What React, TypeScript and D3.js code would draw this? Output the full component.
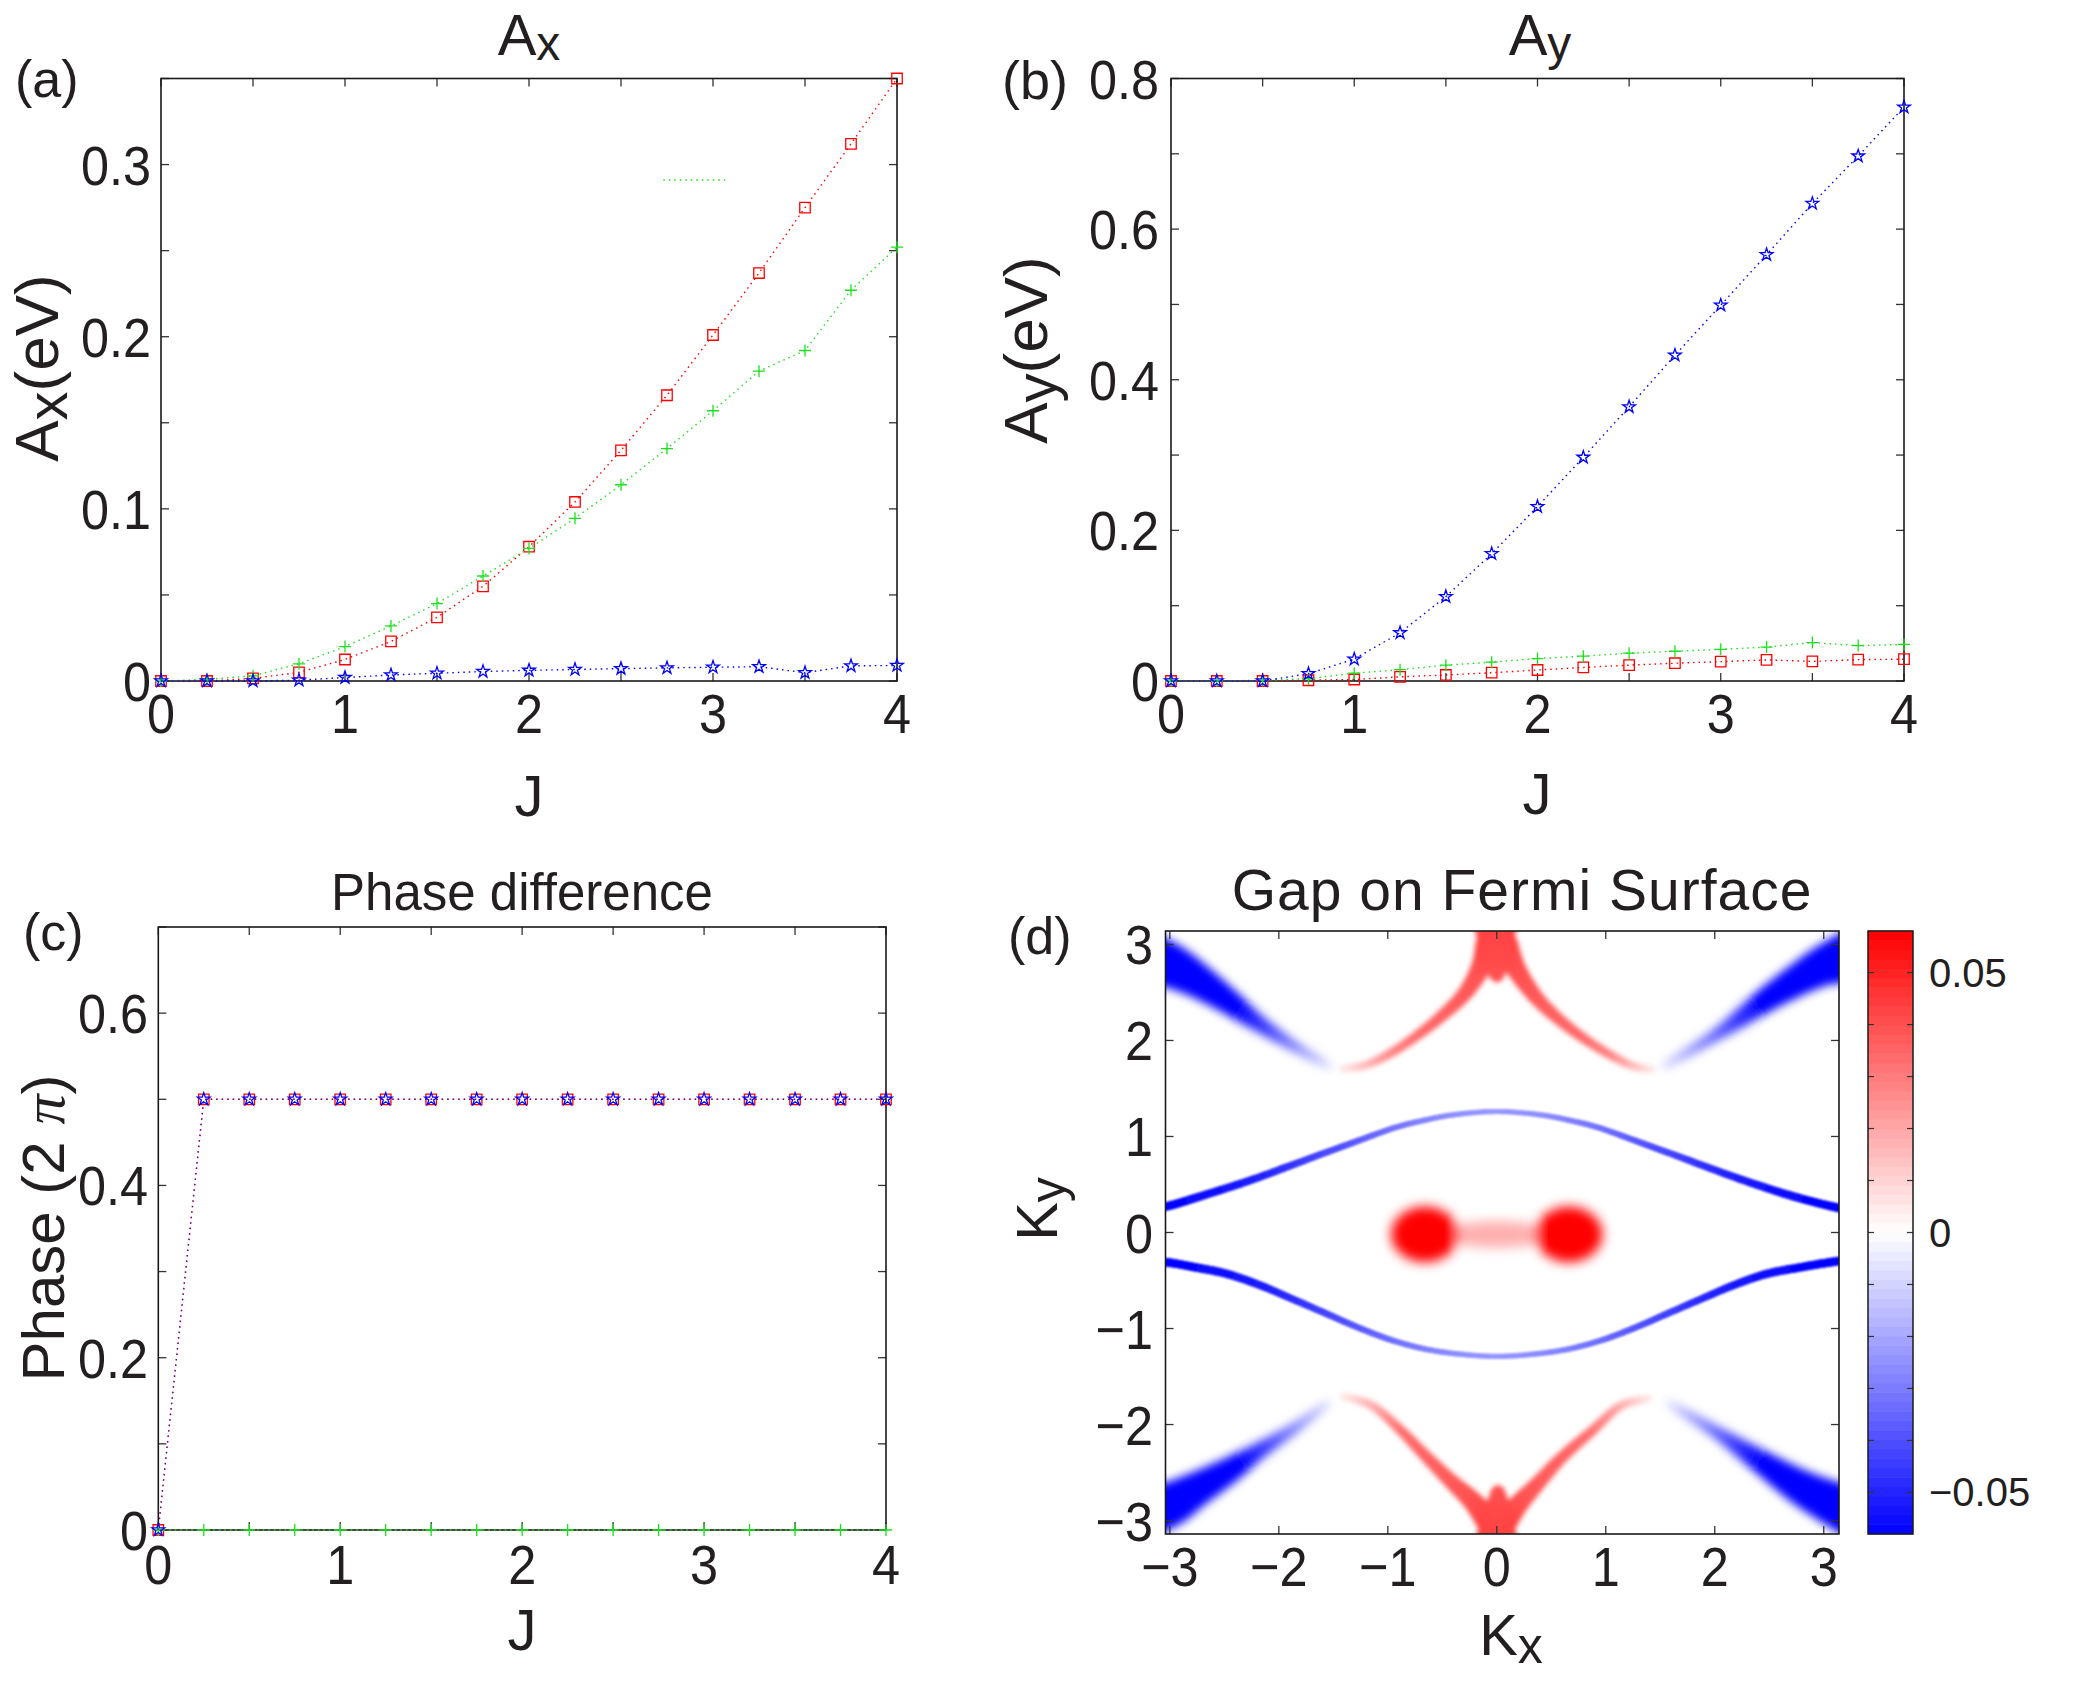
import React, { useEffect } from 'react';
import * as d3 from 'd3';

const FONT = '"Liberation Sans", Arial, Helvetica, sans-serif';
const INK = '#231f20';
const RED = '#ff0000';
const GREEN = '#1ee01e';
const BLUE = '#0000ff';

// ---------- panels (a)-(c): J sweep ----------
const J = [0, 0.25, 0.5, 0.75, 1, 1.25, 1.5, 1.75, 2, 2.25, 2.5, 2.75, 3, 3.25, 3.5, 3.75, 4];

const axRed = [0, 0, 0.0015, 0.005, 0.0125, 0.023, 0.037, 0.055, 0.078, 0.104, 0.134, 0.166, 0.201, 0.237, 0.275, 0.312, 0.35];
const axGreen = [0, 0.001, 0.003, 0.010, 0.020, 0.032, 0.045, 0.061, 0.077, 0.0945, 0.114, 0.135, 0.157, 0.18, 0.192, 0.227, 0.252];
const axBlue = [0, 0, 0, 0.0005, 0.002, 0.0035, 0.0045, 0.0055, 0.0062, 0.0067, 0.0072, 0.0076, 0.008, 0.0083, 0.0048, 0.0088, 0.009];
const axStub = [[2.73, 0.291], [3.07, 0.291]];

const ayBlue = [0, 0, 0, 0.0097, 0.029, 0.064, 0.112, 0.169, 0.2315, 0.297, 0.364, 0.4326, 0.499, 0.566, 0.634, 0.697, 0.762];
const ayGreen = [0, 0, 0.001, 0.003, 0.0104, 0.015, 0.021, 0.025, 0.0298, 0.033, 0.037, 0.0395, 0.042, 0.045, 0.051, 0.047, 0.0485];
const ayRed = [0, 0, 0, 0.001, 0.002, 0.0055, 0.008, 0.011, 0.0146, 0.018, 0.021, 0.0236, 0.0257, 0.028, 0.026, 0.0284, 0.029];

const phRed = [0, 0.5, 0.5, 0.5, 0.5, 0.5, 0.5, 0.5, 0.5, 0.5, 0.5, 0.5, 0.5, 0.5, 0.5, 0.5, 0.5];
const phBlue = [0, 0.5, 0.5, 0.5, 0.5, 0.5, 0.5, 0.5, 0.5, 0.5, 0.5, 0.5, 0.5, 0.5, 0.5, 0.5, 0.5];
const phGreen = [0, 0, 0, 0, 0, 0, 0, 0, 0, 0, 0, 0, 0, 0, 0, 0, 0];

const jTicks = [0, 0.5, 1, 1.5, 2, 2.5, 3, 3.5, 4];
const jLabels = [0, 1, 2, 3, 4];
const axYTicks = [0, 0.05, 0.1, 0.15, 0.2, 0.25, 0.3, 0.35];
const axYLabels = [0, 0.1, 0.2, 0.3];
const ayYTicks = [0, 0.1, 0.2, 0.3, 0.4, 0.5, 0.6, 0.7, 0.8];
const ayYLabels = [0, 0.2, 0.4, 0.6, 0.8];
const phYTicks = [0, 0.1, 0.2, 0.3, 0.4, 0.5, 0.6, 0.7];
const phYLabels = [0, 0.2, 0.4, 0.6];

// ---------- panel (d): gap on the Fermi surface ----------
// each point: [kx, ky, gap (eV), band width in k units]
const innerUpper = [
  [-3.3, 0.24, -0.058, 0.09], [-3.04, 0.27, -0.058, 0.09], [-2.71, 0.38, -0.056, 0.085],
  [-2.27, 0.54, -0.052, 0.08], [-1.92, 0.685, -0.047, 0.075], [-1.66, 0.795, -0.043, 0.07],
  [-1.43, 0.89, -0.04, 0.066], [-1.25, 0.965, -0.037, 0.064], [-0.94, 1.09, -0.032, 0.06],
  [-0.7, 1.16, -0.029, 0.058], [-0.4, 1.225, -0.026, 0.055], [0, 1.26, -0.024, 0.054],
  [0.4, 1.225, -0.026, 0.055], [0.7, 1.16, -0.029, 0.058], [0.94, 1.09, -0.032, 0.06],
  [1.25, 0.965, -0.037, 0.064], [1.43, 0.89, -0.04, 0.066], [1.66, 0.795, -0.043, 0.07],
  [1.92, 0.685, -0.047, 0.075], [2.3, 0.53, -0.052, 0.08], [2.71, 0.38, -0.056, 0.085],
  [3.12, 0.26, -0.058, 0.09], [3.3, 0.24, -0.058, 0.09],
];
const innerLower = [
  [-3.3, -0.29, -0.058, 0.09], [-3.03, -0.31, -0.058, 0.09], [-2.78, -0.36, -0.057, 0.088],
  [-2.48, -0.43, -0.055, 0.085], [-2.17, -0.55, -0.052, 0.08], [-1.86, -0.7, -0.048, 0.075],
  [-1.555, -0.85, -0.043, 0.07], [-1.25, -1.0, -0.038, 0.066], [-0.94, -1.13, -0.033, 0.062],
  [-0.63, -1.22, -0.029, 0.058], [-0.31, -1.27, -0.026, 0.055], [0, -1.29, -0.024, 0.054],
  [0.31, -1.27, -0.026, 0.055], [0.63, -1.22, -0.029, 0.058], [0.94, -1.13, -0.033, 0.062],
  [1.25, -1.0, -0.038, 0.066], [1.555, -0.85, -0.043, 0.07], [1.86, -0.7, -0.048, 0.075],
  [2.17, -0.55, -0.052, 0.08], [2.48, -0.43, -0.055, 0.085], [2.8, -0.36, -0.057, 0.088],
  [3.12, -0.3, -0.058, 0.09], [3.3, -0.29, -0.058, 0.09],
];
// funnel at the zone edge where the two red arms meet
const redTop = [[-0.01, 3.45, 0.043, 0.55], [-0.01, 3.05, 0.043, 0.36], [0, 2.85, 0.042, 0.26], [0, 2.68, 0.04, 0.14]];
const redBottom = [[0, -3.45, 0.043, 0.55], [0, -3.05, 0.043, 0.34], [0.01, -2.86, 0.042, 0.24], [0.01, -2.7, 0.04, 0.13]];
const redUL = [
  [-0.08, 3.0, 0.043, 0.26], [-0.15, 2.75, 0.041, 0.2], [-0.3, 2.48, 0.038, 0.15],
  [-0.5, 2.26, 0.036, 0.12], [-0.72, 2.06, 0.034, 0.1], [-0.97, 1.87, 0.029, 0.09],
  [-1.2, 1.745, 0.018, 0.08], [-1.41, 1.705, 0.006, 0.075],
];
const redUR = [
  [0.08, 3.0, 0.043, 0.26], [0.18, 2.74, 0.041, 0.2], [0.36, 2.45, 0.038, 0.15],
  [0.57, 2.22, 0.036, 0.12], [0.8, 2.02, 0.034, 0.1], [1.04, 1.85, 0.029, 0.09],
  [1.25, 1.735, 0.018, 0.08], [1.42, 1.7, 0.006, 0.075],
];
const redLL = [
  [-0.08, -3.0, 0.043, 0.26], [-0.22, -2.8, 0.041, 0.2], [-0.43, -2.58, 0.038, 0.15],
  [-0.66, -2.32, 0.036, 0.12], [-0.9, -2.04, 0.033, 0.1], [-1.15, -1.8, 0.02, 0.085], [-1.4, -1.71, 0.006, 0.075],
];
const redLR = [
  [0.08, -3.0, 0.043, 0.26], [0.2, -2.83, 0.041, 0.2], [0.38, -2.61, 0.038, 0.15],
  [0.6, -2.34, 0.036, 0.12], [0.88, -2.06, 0.033, 0.1], [1.13, -1.81, 0.021, 0.085], [1.38, -1.73, 0.007, 0.075],
];
const blueUL = [
  [-1.535, 1.73, -0.004, 0.075], [-1.86, 1.94, -0.027, 0.11], [-2.19, 2.18, -0.045, 0.17],
  [-2.48, 2.42, -0.058, 0.26], [-2.77, 2.64, -0.064, 0.36], [-3.02, 2.79, -0.066, 0.46], [-3.4, 2.95, -0.066, 0.56],
];
const blueUR = [
  [1.533, 1.73, -0.004, 0.075], [2.03, 2.07, -0.034, 0.13], [2.52, 2.46, -0.058, 0.26],
  [2.93, 2.74, -0.064, 0.38], [3.12, 2.83, -0.066, 0.46], [3.4, 2.95, -0.066, 0.56],
];
const blueLL = [
  [-1.55, -1.78, -0.004, 0.075], [-1.86, -2.04, -0.027, 0.11], [-2.19, -2.28, -0.045, 0.17],
  [-2.46, -2.48, -0.058, 0.26], [-2.78, -2.69, -0.064, 0.36], [-3.02, -2.84, -0.066, 0.46], [-3.4, -2.98, -0.066, 0.56],
];
const blueLR = [
  [1.58, -1.78, -0.004, 0.075], [2.03, -2.09, -0.034, 0.13], [2.44, -2.4, -0.055, 0.24],
  [2.8, -2.66, -0.064, 0.36], [3.12, -2.84, -0.066, 0.46], [3.4, -2.98, -0.066, 0.56],
];
// [kx, ky, rx, ry, gap]
const pocketBridge = [[0, -0.02, 0.5, 0.14, 0.018]];
const pockets = [[-0.66, -0.02, 0.31, 0.29, 0.066], [0.66, -0.02, 0.31, 0.29, 0.066]];

const kTicks = [-3, -2, -1, 0, 1, 2, 3];
const cbTicks = [-0.05, -0.04, -0.03, -0.02, -0.01, 0, 0.01, 0.02, 0.03, 0.04, 0.05];
const cbLabels = [[0.05, '0.05'], [0, '0'], [-0.05, '\u22120.05']];

// ---------- scales ----------
const aX = d3.scaleLinear().domain([0, 4]).range([161, 897]);
const aY = d3.scaleLinear().domain([0, 0.35]).range([681, 78.5]);
const bX = d3.scaleLinear().domain([0, 4]).range([1171, 1904]);
const bY = d3.scaleLinear().domain([0, 0.8]).range([681, 78.5]);
const cX = d3.scaleLinear().domain([0, 4]).range([158.3, 886]);
const cY = d3.scaleLinear().domain([0, 0.7]).range([1530, 927]);
const dX = d3.scaleLinear().domain([-3.04, 3.14]).range([1165.5, 1839]);
const dY = d3.scaleLinear().domain([-3.14, 3.14]).range([1534, 931]);
const cbY = d3.scaleLinear().domain([-0.058, 0.058]).range([1534, 931]);
const cbX0 = 1868;
const cbX1 = 1913;
const gapColor = d3.scaleLinear<string>().domain([-0.058, 0, 0.058]).range([BLUE, '#ffffff', RED]).clamp(true);

const squareD = d3.symbol(d3.symbolSquare, 110)();
const starD = d3.symbol(d3.symbolStar, 50)();
const plusD = 'M-6,0H6M0,-6V6';
const DOT = '1.5 4';

function Txt({ x, y, size, anchor = 'middle', rot = 0, sx = 1, spacing = 0, children }: any) {
  let t = `translate(${x},${y})`;
  if (rot) t += ` rotate(${rot})`;
  if (sx !== 1) t += ` scale(${sx},1)`;
  return (
    <text transform={t} fontSize={size} fontFamily={FONT} textAnchor={anchor} fill={INK} letterSpacing={spacing}>
      {children}
    </text>
  );
}

function Frame({ xs, ys, xt, yt, len = 8 }: any) {
  const [x0, x1] = xs.range();
  const [y0, y1] = ys.range();
  return (
    <g stroke="#333" strokeWidth={1.3}>
      {xt.map((t: number) => (
        <g key={'x' + t}>
          <line x1={xs(t)} x2={xs(t)} y1={y0} y2={y0 - len} />
          <line x1={xs(t)} x2={xs(t)} y1={y1} y2={y1 + len} />
        </g>
      ))}
      {yt.map((t: number) => (
        <g key={'y' + t}>
          <line x1={x0} x2={x0 + len} y1={ys(t)} y2={ys(t)} />
          <line x1={x1} x2={x1 - len} y1={ys(t)} y2={ys(t)} />
        </g>
      ))}
      <rect x={x0} y={y1} width={x1 - x0} height={y0 - y1} fill="none" stroke="#1a1a1a" strokeWidth={1.6} />
    </g>
  );
}

function Series({ xs, ys, vals, color, marker, lineOpacity = 1 }: any) {
  const line = d3.line<number>().x((_, i) => xs(J[i])).y((v) => ys(v));
  const d = marker === 'plus' ? plusD : marker === 'star' ? starD : squareD;
  return (
    <g>
      <path d={line(vals) || ''} fill="none" stroke={color} strokeOpacity={lineOpacity} strokeWidth={1.4} strokeDasharray={DOT} />
      {vals.map((v: number, i: number) => (
        <path key={i} d={d} transform={`translate(${xs(J[i])},${ys(v)})`} fill="none" stroke={color} strokeWidth={1.3} />
      ))}
    </g>
  );
}

function YTickLabels({ ys, vals, x }: any) {
  return vals.map((v: number) => (
    <Txt key={v} x={x} y={ys(v) + 20} size={56} anchor="end" sx={0.9}>
      {v < 0 ? '\u2212' + Math.abs(v) : String(v)}
    </Txt>
  ));
}
function XTickLabels({ xs, vals, y }: any) {
  return vals.map((v: number) => (
    <Txt key={v} x={xs(v)} y={y} size={56} sx={0.9}>{v < 0 ? '\u2212' + Math.abs(v) : String(v)}</Txt>
  ));
}

// smooth (Catmull-Rom) rendering of a band through its read points
function Band({ pts }: { pts: number[][] }) {
  const ppu = dY(0) - dY(1);
  const P = pts.map(([kx, ky, g, w]) => ({ x: dX(kx), y: dY(ky), g, w: w * ppu }));
  const S: { x: number; y: number; g: number; w: number }[] = [];
  const n = 10;
  for (let i = 0; i < P.length - 1; i++) {
    const p0 = P[i - 1] || P[i], p1 = P[i], p2 = P[i + 1], p3 = P[i + 2] || P[i + 1];
    for (let k = 0; k < n; k++) {
      const t = k / n, t2 = t * t, t3 = t2 * t;
      const cr = (a: number, b: number, c: number, d: number) =>
        0.5 * (2 * b + (-a + c) * t + (2 * a - 5 * b + 4 * c - d) * t2 + (-a + 3 * b - 3 * c + d) * t3);
      S.push({
        x: cr(p0.x, p1.x, p2.x, p3.x),
        y: cr(p0.y, p1.y, p2.y, p3.y),
        g: p1.g + (p2.g - p1.g) * t,
        w: p1.w + (p2.w - p1.w) * t,
      });
    }
  }
  S.push(P[P.length - 1]);
  return (
    <g strokeLinecap="round">
      {S.slice(1).map((b, i) => {
        const a = S[i];
        return (
          <line key={i} x1={a.x} y1={a.y} x2={b.x} y2={b.y} stroke={gapColor((a.g + b.g) / 2)} strokeWidth={(a.w + b.w) / 2} />
        );
      })}
    </g>
  );
}

export default function App() {
  useEffect(() => {
    document.body.style.margin = '0';
    document.body.style.overflow = 'hidden';
  }, []);

  const cbStep = 0.116 / 64;
  const cbBands = d3.range(64).map((i) => -0.058 + i * cbStep);

  return (
    <svg width={2086} height={1681} style={{ position: 'absolute', left: 0, top: 0, background: '#fff' }}>
      <defs>
        <clipPath id="clipD">
          <rect x={dX.range()[0]} y={dY.range()[1]} width={dX.range()[1] - dX.range()[0]} height={dY.range()[0] - dY.range()[1]} />
        </clipPath>
        <filter id="blur1" x="-10%" y="-30%" width="120%" height="160%">
          <feGaussianBlur stdDeviation={1.1} />
        </filter>
        <filter id="blur2" x="-20%" y="-20%" width="140%" height="140%">
          <feGaussianBlur stdDeviation={2.6} />
        </filter>
        <filter id="blur4" x="-20%" y="-20%" width="140%" height="140%">
          <feGaussianBlur stdDeviation={5} />
        </filter>
        <filter id="blur5" x="-30%" y="-60%" width="160%" height="220%">
          <feGaussianBlur stdDeviation={6} />
        </filter>
      </defs>
      <rect width={2086} height={1681} fill="#fff" />

      {/* ---------- (a) ---------- */}
      <Txt x={15} y={97} size={52} anchor="start">(a)</Txt>
      <Txt x={529} y={55} size={58}>A<tspan fontSize={48} dy={5}>x</tspan></Txt>
      <Txt x={58} y={368} size={62} rot={-90}>
        A<tspan fontSize={58} dy={9}>x</tspan><tspan dy={-9}>(eV)</tspan>
      </Txt>
      <Frame xs={aX} ys={aY} xt={jTicks} yt={axYTicks} />
      <path d={d3.line()(axStub.map(([x, y]) => [aX(x), aY(y)]) as any) || ''} stroke={GREEN} strokeWidth={1.4} strokeDasharray={DOT} fill="none" />
      <Series xs={aX} ys={aY} vals={axRed} color={RED} marker="square" />
      <Series xs={aX} ys={aY} vals={axGreen} color={GREEN} marker="plus" />
      <Series xs={aX} ys={aY} vals={axBlue} color={BLUE} marker="star" />
      <YTickLabels ys={aY} vals={axYLabels} x={151} />
      <XTickLabels xs={aX} vals={jLabels} y={733} />
      <Txt x={529} y={816} size={58}>J</Txt>

      {/* ---------- (b) ---------- */}
      <Txt x={1002} y={99} size={54} anchor="start">(b)</Txt>
      <Txt x={1540} y={55} size={58}>A<tspan fontSize={48} dy={5}>y</tspan></Txt>
      <Txt x={1047} y={350} size={62} rot={-90}>
        A<tspan fontSize={58} dy={9}>y</tspan><tspan dy={-9}>(eV)</tspan>
      </Txt>
      <Frame xs={bX} ys={bY} xt={jTicks} yt={ayYTicks} />
      <Series xs={bX} ys={bY} vals={ayRed} color={RED} marker="square" />
      <Series xs={bX} ys={bY} vals={ayGreen} color={GREEN} marker="plus" />
      <Series xs={bX} ys={bY} vals={ayBlue} color={BLUE} marker="star" />
      <YTickLabels ys={bY} vals={ayYLabels} x={1159} />
      <XTickLabels xs={bX} vals={jLabels} y={733} />
      <Txt x={1537} y={814} size={58}>J</Txt>

      {/* ---------- (c) ---------- */}
      <Txt x={23} y={950} size={52} anchor="start">(c)</Txt>
      <Txt x={522} y={910} size={51}>Phase difference</Txt>
      <Txt x={64} y={1228} size={60} rot={-90}>
        Phase (2 <tspan fontFamily='"Liberation Serif", serif' fontStyle="italic">π</tspan>)
      </Txt>
      <Frame xs={cX} ys={cY} xt={jTicks} yt={phYTicks} />
      <Series xs={cX} ys={cY} vals={phRed} color={RED} marker="square" />
      <Series xs={cX} ys={cY} vals={phGreen} color={GREEN} marker="plus" />
      <Series xs={cX} ys={cY} vals={phBlue} color={BLUE} marker="star" lineOpacity={0.6} />
      <YTickLabels ys={cY} vals={phYLabels} x={148} />
      <XTickLabels xs={cX} vals={jLabels} y={1584} />
      <Txt x={522} y={1650} size={58}>J</Txt>

      {/* ---------- (d) ---------- */}
      <Txt x={1008} y={954} size={52} anchor="start">(d)</Txt>
      <Txt x={1522} y={910} size={57} spacing={1}>Gap on Fermi Surface</Txt>
      <Txt x={1057} y={1209} size={58} rot={-90}>
        K<tspan fontSize={50} dy={8}>y</tspan>
      </Txt>
      <g clipPath="url(#clipD)">
        <g filter="url(#blur1)">
          <Band pts={innerUpper} />
          <Band pts={innerLower} />
        </g>
        <g filter="url(#blur2)">
          <Band pts={redUL} />
          <Band pts={redUR} />
          <Band pts={redLL} />
          <Band pts={redLR} />
          <Band pts={redTop} />
          <Band pts={redBottom} />
        </g>
        <g filter="url(#blur4)">
          <Band pts={blueUL} />
          <Band pts={blueUR} />
          <Band pts={blueLL} />
          <Band pts={blueLR} />
        </g>
        <g filter="url(#blur5)">
          {pocketBridge.concat(pockets).map(([kx, ky, rx, ry, g], i) => (
            <ellipse key={i} cx={dX(kx)} cy={dY(ky)} rx={dX(rx) - dX(0)} ry={dY(0) - dY(ry)} fill={gapColor(g)} />
          ))}
        </g>
      </g>
      <Frame xs={dX} ys={dY} xt={kTicks} yt={kTicks} />
      <YTickLabels ys={dY} vals={kTicks} x={1153} />
      <XTickLabels xs={dX} vals={kTicks} y={1586} />
      <Txt x={1511} y={1655} size={58}>
        K<tspan fontSize={50} dy={8}>x</tspan>
      </Txt>

      {/* colorbar */}
      {cbBands.map((v, i) => (
        <rect key={i} x={cbX0} y={cbY(v + cbStep) - 0.3} width={cbX1 - cbX0} height={cbY(v) - cbY(v + cbStep) + 0.6} fill={gapColor(v + cbStep / 2)} />
      ))}
      <g stroke="#333" strokeWidth={1.2}>
        {cbTicks.map((t) => (
          <g key={t}>
            <line x1={cbX0} x2={cbX0 + 6} y1={cbY(t)} y2={cbY(t)} />
            <line x1={cbX1} x2={cbX1 - 6} y1={cbY(t)} y2={cbY(t)} />
          </g>
        ))}
      </g>
      <rect x={cbX0} y={931} width={cbX1 - cbX0} height={603} fill="none" stroke="#1a1a1a" strokeWidth={1.5} />
      {cbLabels.map(([v, s]) => (
        <Txt key={s as string} x={1929} y={cbY(v as number) + 14} size={40} anchor="start">{s}</Txt>
      ))}
    </svg>
  );
}
